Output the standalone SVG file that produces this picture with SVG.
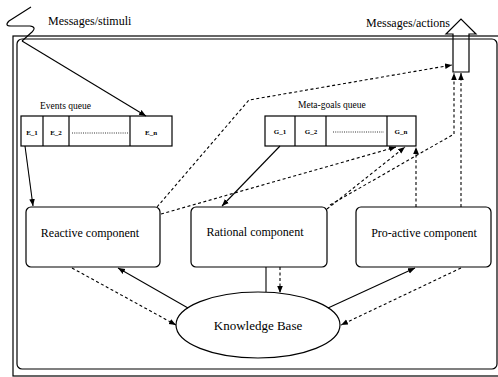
<svg xmlns="http://www.w3.org/2000/svg" width="498" height="377" viewBox="0 0 498 377">
<style>
  text { font-family: "Liberation Serif", "Times New Roman", serif; fill: #000; }
  .lbl { font-size: 12px; text-anchor: middle; }
  .ql { font-size: 9.5px; }
  .cell { font-size: 7px; font-weight: bold; text-anchor: middle; }
  .box { fill: #fff; stroke: #000; stroke-width: 1.2; }
  .frame { fill: none; stroke: #000; stroke-width: 1.2; }
  .solid { fill: none; stroke: #000; stroke-width: 1.1; }
  .dash { fill: none; stroke: #000; stroke-width: 1.1; stroke-dasharray: 3 2.5; }
  .dots { stroke: #000; stroke-width: 0.8; stroke-dasharray: 1 1.2; }
</style>
<defs>
  <marker id="ah" viewBox="0 0 10 10" refX="10" refY="5" markerWidth="7" markerHeight="7" markerUnits="userSpaceOnUse" orient="auto">
    <path d="M0,1 L10,5 L0,9 z" fill="#000"/>
  </marker>
</defs>
<rect width="498" height="377" fill="#fff"/>

<g id="frame">
  <rect class="frame" x="13" y="36" width="492" height="340"/>
  <rect class="frame" x="17" y="39" width="480" height="330" rx="5"/>
</g>

<g id="stimuli">
  <path class="solid" d="M31,7 L9,21 Q4,26 11,26 L30,26 Q37,27 32,32 L22,41"/>
  <text x="48" y="25" style="font-size:12px">Messages/stimuli</text>
</g>

<g id="actions">
  <polygon points="453,72 453,34 446,34 461,19 476,34 469,34 469,72" fill="none" stroke="#000" stroke-width="1.2"/>
  <text x="450" y="27" style="font-size:12px" text-anchor="end">Messages/actions</text>
</g>

<g id="events-queue">
  <text class="ql" x="40" y="109">Events queue</text>
  <rect class="box" x="21" y="116" width="151" height="30"/>
  <line x1="43" y1="116" x2="43" y2="146" stroke="#000" stroke-width="1.2"/>
  <line x1="69" y1="116" x2="69" y2="146" stroke="#000" stroke-width="1.2"/>
  <line x1="130" y1="116" x2="130" y2="146" stroke="#000" stroke-width="1.2"/>
  <text class="cell" x="32" y="135">E_1</text>
  <text class="cell" x="56" y="135">E_2</text>
  <line class="dots" x1="72" y1="133" x2="128" y2="133"/>
  <text class="cell" x="151" y="135">E_n</text>
</g>

<g id="meta-goals-queue">
  <text class="ql" x="298" y="108">Meta-goals queue</text>
  <rect class="box" x="265" y="116" width="151" height="30"/>
  <line x1="295" y1="116" x2="295" y2="146" stroke="#000" stroke-width="1.2"/>
  <line x1="326" y1="116" x2="326" y2="146" stroke="#000" stroke-width="1.2"/>
  <line x1="387" y1="116" x2="387" y2="146" stroke="#000" stroke-width="1.2"/>
  <text class="cell" x="280" y="134">G_1</text>
  <text class="cell" x="311" y="134">G_2</text>
  <line class="dots" x1="333" y1="132" x2="384" y2="132"/>
  <text class="cell" x="401" y="134">G_n</text>
</g>

<g id="reactive">
  <rect class="box" x="26" y="207" width="134" height="60" rx="5"/>
  <text class="lbl" x="90" y="237">Reactive component</text>
</g>

<g id="rational">
  <rect class="box" x="191" y="207" width="136" height="60" rx="5"/>
  <text class="lbl" x="255" y="236">Rational component</text>
</g>

<g id="proactive">
  <rect class="box" x="356" y="207" width="135" height="60" rx="5"/>
  <text class="lbl" x="424" y="237">Pro-active component</text>
</g>

<g id="knowledge-base">
  <ellipse class="box" cx="258" cy="325" rx="82" ry="33"/>
  <text x="258" y="330" style="font-size:13px" text-anchor="middle">Knowledge Base</text>
</g>

<g id="connectors">
  <line class="solid" x1="22" y1="41" x2="146" y2="116" marker-end="url(#ah)"/>
  <line class="solid" x1="25" y1="146" x2="33" y2="206" marker-end="url(#ah)"/>
  <polyline class="dash" points="157,207 249,100 452,65" marker-end="url(#ah)"/>
  <line class="dash" x1="161" y1="214" x2="396" y2="147" marker-end="url(#ah)"/>
  <line class="solid" x1="280" y1="146" x2="222" y2="206" marker-end="url(#ah)"/>
  <line class="dash" x1="327" y1="209" x2="405" y2="147" marker-end="url(#ah)"/>
  <polyline class="dash" points="330,205 454,134 454,73" marker-end="url(#ah)"/>
  <line class="dash" x1="416" y1="207" x2="416" y2="147" marker-end="url(#ah)"/>
  <line class="dash" x1="461" y1="207" x2="461" y2="73" marker-end="url(#ah)"/>
  <line class="solid" x1="188" y1="308" x2="118" y2="268" marker-end="url(#ah)"/>
  <line class="dash" x1="72" y1="268" x2="176" y2="325" marker-end="url(#ah)"/>
  <line class="solid" x1="266" y1="267" x2="266" y2="292"/>
  <line class="dash" x1="280" y1="267" x2="280" y2="293" marker-end="url(#ah)"/>
  <line class="solid" x1="328" y1="308" x2="415" y2="268" marker-end="url(#ah)"/>
  <line class="dash" x1="461" y1="268" x2="341" y2="325" marker-end="url(#ah)"/>
</g>
</svg>
